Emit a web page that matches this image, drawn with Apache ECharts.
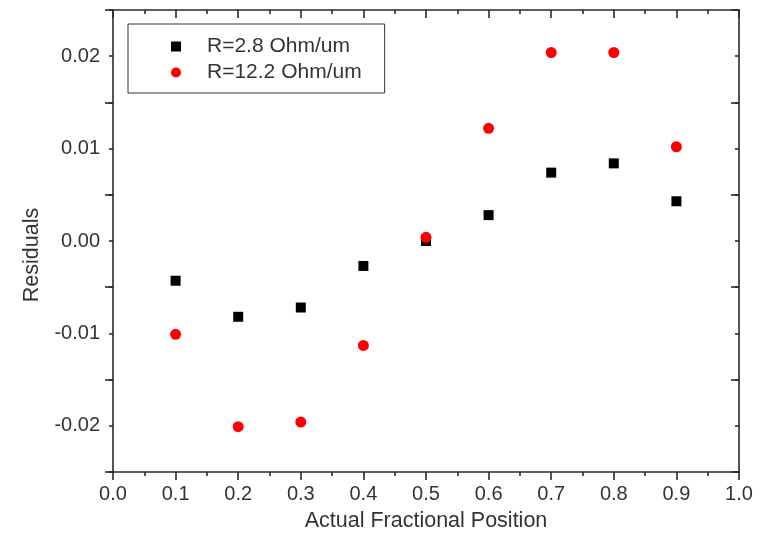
<!DOCTYPE html>
<html>
<head>
<meta charset="utf-8">
<script src="https://cdn.jsdelivr.net/npm/echarts@6/dist/echarts.min.js"></script>
<style>
html,body{margin:0;padding:0;background:#fff;}
#chart{width:763px;height:544px;}
</style>
</head>
<body>
<div id="chart"></div>
<script>
var positions = [0.1, 0.2, 0.3, 0.4, 0.5, 0.6, 0.7, 0.8, 0.9];
var residualsLow = [-0.0043, -0.0082, -0.0072, -0.0027, 0.0000, 0.0028, 0.0074, 0.0084, 0.0043];
var residualsHigh = [-0.0101, -0.0201, -0.0196, -0.0113, 0.0004, 0.0122, 0.0204, 0.0204, 0.0102];
var seriesNames = ['R=2.8 Ohm/um', 'R=12.2 Ohm/um'];
var xTitle = 'Actual Fractional Position';
var yTitle = 'Residuals';

var FONT = '"Liberation Sans", Arial, sans-serif';
var AX = '#2a2a2a';
var TXT = '#333';

function pairs(xs, ys) { return xs.map(function (x, i) { return [x, ys[i]]; }); }

var chart = echarts.init(document.getElementById('chart'), null, {renderer: 'canvas'});
var lineStyle = {color: AX, width: 1.6};
var yMin = -0.025, yMax = 0.025;
function yBase(extra) {
  return Object.assign({
    type: 'value', min: yMin, max: yMax,
    axisLabel: {show: false},
    splitLine: {show: false}
  }, extra);
}
chart.setOption({
  animation: false,
  backgroundColor: '#fff',
  grid: {left: 113, right: 24, top: 10, bottom: 72, containLabel: false},
  legend: {
    orient: 'vertical',
    left: 128, top: 24,
    padding: [12, 23, 10, 43],
    itemGap: 5,
    itemWidth: 10, itemHeight: 10,
    borderColor: '#333', borderWidth: 1,
    data: [
      {name: seriesNames[0], icon: 'rect'},
      {name: seriesNames[1], icon: 'circle'}
    ],
    formatter: function (n) { return '{g|}' + n; },
    textStyle: {fontFamily: FONT, fontSize: 21, color: TXT, rich: {g: {width: 21}}}
  },
  xAxis: [{
    type: 'value', min: 0, max: 1, interval: 0.1, position: 'bottom',
    name: xTitle, nameLocation: 'middle', nameGap: 38,
    nameTextStyle: {fontFamily: FONT, fontSize: 21.5, color: TXT},
    axisLine: {show: true, onZero: false, lineStyle: lineStyle},
    axisTick: {show: true, inside: false, length: 8, lineStyle: lineStyle},
    minorTick: {show: true, splitNumber: 2, length: 4, lineStyle: lineStyle},
    axisLabel: {margin: 12, fontFamily: FONT, fontSize: 20, color: TXT,
      formatter: function (v) { return v.toFixed(1); }},
    splitLine: {show: false}
  }, {
    type: 'value', min: 0, max: 1, interval: 0.1, position: 'top',
    axisLine: {show: true, onZero: false, lineStyle: lineStyle},
    axisTick: {show: true, inside: true, length: 8, lineStyle: lineStyle},
    minorTick: {show: true, splitNumber: 2, length: 4, lineStyle: lineStyle},
    axisLabel: {show: false},
    splitLine: {show: false}
  }],
  yAxis: [
    // main left axis: minor-length ticks every 0.005, labels at each 0.01
    yBase({
      interval: 0.005, position: 'left',
      name: yTitle, nameLocation: 'middle', nameGap: 70, nameRotate: 90,
      nameTextStyle: {fontFamily: FONT, fontSize: 21.5, color: TXT, padding: [0, 28, 0, 0]},
      axisLine: {show: true, onZero: false, lineStyle: lineStyle},
      axisTick: {show: true, inside: false, length: 4, lineStyle: lineStyle},
      axisLabel: {show: true, margin: 13, fontFamily: FONT, fontSize: 20, color: TXT,
        formatter: function (v) {
          var r = Math.round(v * 1000);
          if (r % 10 !== 0 || Math.abs(r) > 20) return '';
          return v.toFixed(2).replace('-0.00', '0.00');
        }}
    }),
    // major ticks overlay on left
    yBase({
      interval: 0.01, position: 'left',
      axisLine: {show: false, onZero: false},
      axisTick: {show: true, inside: false, length: 8, lineStyle: lineStyle}
    }),
    // right mirror axis (inward ticks)
    yBase({
      interval: 0.005, position: 'right',
      axisLine: {show: true, onZero: false, lineStyle: lineStyle},
      axisTick: {show: true, inside: true, length: 4, lineStyle: lineStyle}
    }),
    yBase({
      interval: 0.01, position: 'right',
      axisLine: {show: false, onZero: false},
      axisTick: {show: true, inside: true, length: 8, lineStyle: lineStyle}
    })
  ],
  series: [{
    name: seriesNames[0], type: 'scatter', symbol: 'rect', symbolSize: 10,
    itemStyle: {color: '#000', opacity: 1},
    data: pairs(positions, residualsLow), z: 3
  }, {
    name: seriesNames[1], type: 'scatter', symbol: 'circle', symbolSize: 11,
    itemStyle: {color: '#ff0000', opacity: 1},
    data: pairs(positions, residualsHigh), z: 4
  }]
});
</script>
</body>
</html>
